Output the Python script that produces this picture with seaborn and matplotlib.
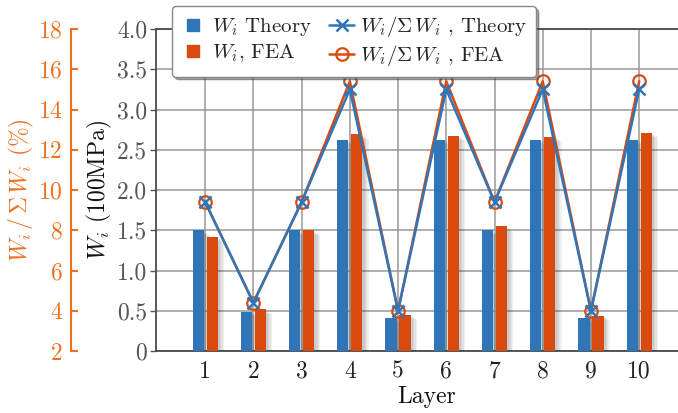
import numpy as np
import pandas as pd
import matplotlib
matplotlib.use("Agg")
import matplotlib.pyplot as plt
import matplotlib.patheffects as pe
from matplotlib.lines import Line2D
import seaborn as sns

# Strain energy per layer (100 MPa) and its share of the total (%)
layers = [1, 2, 3, 4, 5, 6, 7, 8, 9, 10]
w_theory = [1.50, 0.49, 1.50, 2.625, 0.41, 2.625, 1.50, 2.625, 0.41, 2.625]
w_fea = [1.42, 0.52, 1.50, 2.69, 0.45, 2.675, 1.55, 2.66, 0.44, 2.71]
pct_theory = [9.4, 4.4, 9.4, 15.0, 4.0, 15.0, 9.4, 15.0, 4.0, 15.0]
pct_fea = [9.4, 4.4, 9.4, 15.4, 4.0, 15.4, 9.4, 15.4, 4.0, 15.4]
w_ticks = [0, 0.5, 1.0, 1.5, 2.0, 2.5, 3.0, 3.5, 4.0]
w_tick_labels = ["0", "0.5", "1.0", "1.5", "2.0", "2.5", "3.0", "3.5", "4.0"]
pct_ticks = [2, 4, 6, 8, 10, 12, 14, 16, 18]

BLUE = "#2f75b8"
ORANGE = "#d94a0e"
AXIS_ORANGE = "#f0701f"
TICK_GRAY = "#555555"

sns.set_theme(style="white")
plt.rcParams.update({
    "font.family": "serif",
    "font.serif": ["cmr10"],
    "mathtext.fontset": "cm",
    "axes.unicode_minus": False,
    "axes.formatter.use_mathtext": True,
})

df = pd.DataFrame({
    "Layer": [str(l) for l in layers] * 2,
    "W": w_theory + w_fea,
    "Source": ["Theory"] * len(layers) + ["FEA"] * len(layers),
})

W, H = 678, 413
fig = plt.figure(figsize=(W / 100, H / 100), dpi=100)
ax_left, ax_right, ax_top, ax_bot = 155.5, 698, 29, 351
ax = fig.add_axes([ax_left / W, 1 - ax_bot / H, (ax_right - ax_left) / W, (ax_bot - ax_top) / H])

sns.barplot(data=df, x="Layer", y="W", hue="Source", palette=[BLUE, ORANGE],
            saturation=1, width=0.58, gap=0.2, dodge=True, ax=ax, legend=False,
            zorder=3, linewidth=0)
# soft drop shadow built from a few faint offset copies
shadow = [pe.SimplePatchShadow(offset=(d, -0.7 * d), shadow_rgbFace="#333333", alpha=0.07)
          for d in (4.5, 3.5, 2.5, 1.5)] + [pe.Normal()]
for p in ax.patches:
    p.set_path_effects(shadow)

ax.set_ylim(0, 4.0)
ax.set_xlim(-1.03, 10.22)
ax.set_yticks(w_ticks)
ax.set_yticklabels(w_tick_labels)
ax.grid(True, axis="both", color="#999999", linewidth=1.1, zorder=0)
ax.set_axisbelow(True)
for side in ["left", "bottom", "top"]:
    ax.spines[side].set_color("#4a4a4a")
    ax.spines[side].set_linewidth(1.3)
ax.spines["right"].set_visible(False)
ax.tick_params(axis="y", direction="out", length=4, width=1, color="#555555",
               labelsize=17, labelcolor=TICK_GRAY, pad=2, left=True)
ax.tick_params(axis="x", length=0, labelsize=17, labelcolor="#222222", pad=7)
ax.set_xlabel("Layer", fontsize=17, labelpad=2, color="#111111")
ax.set_ylabel(r"$W_i$ (100MPa)", fontsize=17, labelpad=2, color="#111111")

# Share of total energy on an offset secondary axis
ax2 = ax.twinx()
x_pos = np.arange(len(layers))
sns.lineplot(x=x_pos, y=pct_fea, ax=ax2, color=ORANGE, linewidth=1.8,
             marker="o", markersize=9, markerfacecolor="none",
             markeredgecolor=ORANGE, markeredgewidth=1.6, zorder=4)
sns.lineplot(x=x_pos, y=pct_theory, ax=ax2, color=BLUE, linewidth=1.8,
             marker="x", markersize=8, markeredgecolor=BLUE, markeredgewidth=1.8,
             zorder=5)
ax2.set_ylim(2, 18)
ax2.set_yticks(pct_ticks)
ax2.yaxis.set_label_position("left")
ax2.yaxis.set_ticks_position("left")
ax2.spines["left"].set_position(("outward", 84.5 * 72 / 100))
ax2.spines["left"].set_color(AXIS_ORANGE)
ax2.spines["left"].set_linewidth(1.5)
for side in ["right", "top", "bottom"]:
    ax2.spines[side].set_visible(False)
ax2.tick_params(axis="y", direction="in", length=5, width=1.5, color=AXIS_ORANGE,
                labelsize=17, labelcolor=AXIS_ORANGE, pad=6)
ax2.set_ylabel(r"$W_i\,/\,\Sigma\,W_i$ (%)", fontsize=17, color=AXIS_ORANGE, labelpad=1)
ax2.grid(False)
ax2.set_xlim(ax.get_xlim())

handles = [
    Line2D([], [], marker="s", ls="none", color=BLUE, markersize=9),
    Line2D([], [], marker="s", ls="none", color=ORANGE, markersize=9),
    Line2D([], [], marker="x", color=BLUE, lw=1.8, markersize=8, markeredgewidth=1.8),
    Line2D([], [], marker="o", color=ORANGE, lw=1.8, markersize=9,
           markerfacecolor="none", markeredgewidth=1.6),
]
labels = [r"$W_i$ Theory", r"$W_i$, FEA",
          r"$W_i/\mathbf{\Sigma}\,W_i$ , Theory", r"$W_i/\mathbf{\Sigma}\,W_i$ , FEA"]
leg = ax2.legend(handles, labels, ncol=2, loc="upper left",
                 bbox_to_anchor=(172 / W, 1 - 6 / H), bbox_transform=fig.transFigure,
                 fontsize=15, frameon=True, fancybox=True, shadow=True,
                 handlelength=1.2, handletextpad=0.3, columnspacing=0.85,
                 labelspacing=0.2, borderpad=0.4, borderaxespad=0)
leg.get_frame().set_edgecolor("#888888")
leg.get_frame().set_linewidth(1.0)
leg.set_zorder(10)

fig.savefig("out.png", dpi=100)
